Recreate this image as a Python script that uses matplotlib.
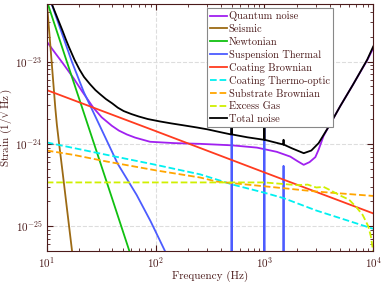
import matplotlib
matplotlib.use('Agg')
import matplotlib.pyplot as plt
import numpy as np

# noise budget curves
f_quantum = [10, 12, 14, 17.6, 21, 26.8, 32, 39.6, 46, 54.5, 65, 89, 150, 257, 500, 855, 1300,
             1730, 2000, 2296, 2600, 2940, 3150, 3500, 3900, 5000, 6500, 8850, 10000]
h_quantum = [1.75e-23, 1.26e-23, 9.6e-24, 6.3e-24, 4.4e-24, 2.75e-24, 2.1e-24, 1.66e-24, 1.45e-24,
             1.3e-24, 1.19e-24, 1.06e-24, 1.02e-24, 1.0e-24, 9.6e-25, 9.0e-25, 8.0e-25, 7.0e-25,
             6.2e-25, 5.56e-25, 6.0e-25, 6.9e-25, 8.5e-25, 1.25e-24, 1.62e-24, 2.9e-24, 5.2e-24,
             1.05e-23, 1.45e-23]

f_seismic = [10, 11, 12, 12.4, 13, 14, 15, 16, 17, 18, 20]
h_seismic = [5.5e-23, 1.15e-23, 2.7e-24, 1.7e-24, 1.0e-24, 4.5e-25, 2.1e-25, 1.03e-25, 5.3e-26,
             2.8e-26, 8.9e-27]

f_newton = [10, 15, 20, 30, 40, 60, 80]
h_newton = [5.5e-23, 1.08e-23, 3.44e-24, 6.8e-25, 2.15e-25, 4.2e-26, 1.34e-26]

f_susp = [10, 11.1, 13, 17, 22, 32, 45, 67, 90, 122, 200, 495, 500, 505, 995, 1000, 1005,
          1495, 1500, 1505, 10000]
h_susp = [7.4e-23, 5e-23, 2.75e-23, 1e-23, 4.2e-24, 1.48e-24, 5.7e-25, 2.4e-25, 1.15e-25, 5e-26,
          1.7e-26, 2.3e-27, 3e-23, 2.2e-27, 5.5e-28, 3e-23, 5.5e-28, 2.3e-28, 5.4e-25, 2.3e-28, 1e-29]

f_coat_br = [10, 100, 1000, 10000]
h_coat_br = [4.5e-24, 1.43e-24, 4.5e-25, 1.43e-25]

f_coat_to = [10, 30, 100, 257, 521, 1000, 1503, 3000, 4990, 10000]
h_coat_to = [1.04e-24, 7.7e-25, 5.57e-25, 4.26e-25, 3.18e-25, 2.55e-25, 2.19e-25, 1.55e-25,
             1.25e-25, 9.3e-26]

f_subs = [10, 17.6, 35.6, 102.8, 257, 366, 1057, 3050, 10000]
h_subs = [8.3e-25, 7.35e-25, 6.1e-25, 4.74e-25, 3.9e-25, 3.48e-25, 3.03e-25, 2.63e-25, 2.33e-25]

f_gas = [10, 100, 1000, 2000, 2500, 3000, 3500, 4000, 5000, 6000, 7000, 8000, 9000, 9500, 10000]
h_gas = [3.4e-25, 3.4e-25, 3.4e-25, 3.15e-25, 3.2e-25, 2.95e-25, 3.0e-25, 2.75e-25, 2.35e-25,
         2.1e-25, 1.7e-25, 1.37e-25, 1.0e-25, 7.6e-26, 4.9e-26]

f_total = [10, 11, 12, 13, 14, 15, 16, 18, 20, 22, 25, 28, 31, 35, 40, 45, 51, 60, 70, 85, 110,
           140, 180, 240, 300, 400, 495, 500, 505, 700, 995, 1000, 1005, 1495, 1500, 1505, 1800,
           2300, 2700, 3150, 3900, 5000, 6500, 8800, 10000]
h_total = [7.5e-23, 5.2e-23, 3.9e-23, 3.0e-23, 2.35e-23, 1.85e-23, 1.5e-23, 1.05e-23, 8.0e-24,
           6.5e-24, 5.3e-24, 4.5e-24, 4.0e-24, 3.5e-24, 3.1e-24, 2.75e-24, 2.5e-24, 2.3e-24,
           2.15e-24, 2.0e-24, 1.87e-24, 1.77e-24, 1.68e-24, 1.58e-24, 1.5e-24, 1.38e-24, 1.3e-24,
           3e-23, 1.3e-24, 1.2e-24, 1.12e-24, 3e-23, 1.12e-24, 9.8e-25, 1.12e-24, 9.8e-25, 8.8e-25,
           7.7e-25, 8.3e-25, 1.02e-24, 1.62e-24, 2.9e-24, 5.2e-24, 1.05e-23, 1.52e-23]

ink = '#4a1a1a'
plt.rcParams['font.family'] = 'serif'
plt.rcParams['font.serif'] = ['cmr10']
plt.rcParams['mathtext.fontset'] = 'cm'
plt.rcParams['axes.unicode_minus'] = False
plt.rcParams['axes.formatter.use_mathtext'] = True
for k in ['text.color', 'axes.labelcolor', 'xtick.color', 'ytick.color', 'axes.edgecolor']:
    plt.rcParams[k] = ink

fig = plt.figure(figsize=(3.82, 2.82), dpi=100)
ax = fig.add_axes([0.1223, 0.110, 0.8547, 0.876])

lw = 1.3
ax.loglog(f_quantum, h_quantum, color='#a020f0', lw=lw, label='Quantum noise')
ax.loglog(f_seismic, h_seismic, color='#9c6a14', lw=lw, label='Seismic')
ax.loglog(f_newton, h_newton, color='#10c010', lw=lw, label='Newtonian')
ax.loglog(f_susp, h_susp, color='#4c5cff', lw=lw, label='Suspension Thermal')
ax.loglog(f_coat_br, h_coat_br, color='#ff3b1f', lw=lw, label='Coating Brownian')
ax.loglog(f_coat_to, h_coat_to, color='#00f0f0', lw=lw, ls='--', label='Coating Thermo-optic')
ax.loglog(f_subs, h_subs, color='#ffa500', lw=lw, ls='--', label='Substrate Brownian')
ax.loglog(f_gas, h_gas, color='#cfef00', lw=lw, ls='--', label='Excess Gas')
ax.loglog(f_total, h_total, color='black', lw=lw, label='Total noise')

ax.set_xlim(10, 1e4)
ax.set_ylim(5e-26, 5e-23)
ax.grid(True, which='major', color='#dddddd', ls='--', lw=0.8)
ax.tick_params(which='both', direction='in', top=True, right=True, labelsize=8)
ax.tick_params(which='major', length=4, pad=3)
ax.tick_params(which='minor', length=2)
ax.set_xlabel('Frequency (Hz)', fontsize=8, labelpad=0.5)
ax.set_ylabel(r'Strain $(1/\sqrt{\mathrm{Hz}})$', fontsize=8, labelpad=1)

leg = ax.legend(loc='upper right', bbox_to_anchor=(0.876, 0.983), borderaxespad=0,
                fontsize=7.5, fancybox=False, framealpha=1, edgecolor='#888888',
                labelspacing=0.3, borderpad=0.3, handlelength=1.6, handletextpad=0.2)
leg.get_frame().set_linewidth(0.8)

plt.savefig('out.png', dpi=100)
